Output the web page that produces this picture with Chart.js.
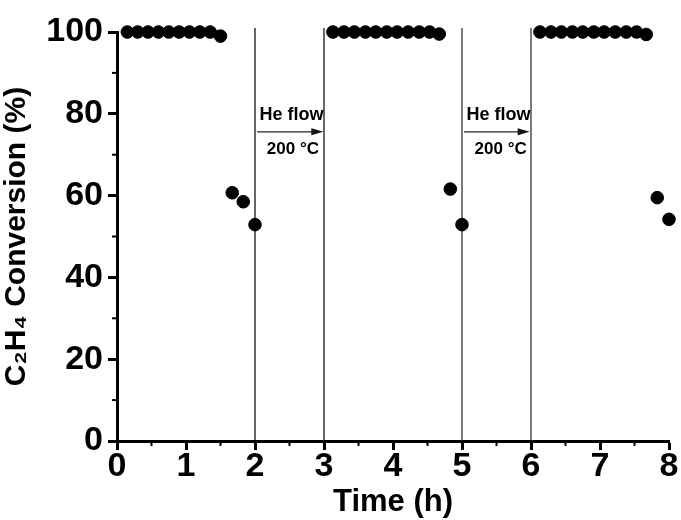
<!DOCTYPE html>
<html>
<head>
<meta charset="utf-8">
<script src="https://cdn.jsdelivr.net/npm/chart.js@4"></script>
<style>
  html, body { margin: 0; padding: 0; background: #fff; }
  #wrap { width: 681px; height: 520px; }
</style>
</head>
<body>
<div id="wrap"><canvas id="c" width="681" height="520"></canvas></div>
<script>
// ---- data ----
const time1 = [0.15, 0.30, 0.45, 0.60, 0.75, 0.90, 1.05, 1.20, 1.35, 1.50, 1.67, 1.83, 2.00];
const conv1 = [100, 100, 100, 100, 100, 100, 100, 100, 100, 99.0, 60.7, 58.5, 52.9];
const time2 = [3.13, 3.29, 3.44, 3.60, 3.75, 3.91, 4.06, 4.22, 4.38, 4.53, 4.67, 4.83, 5.00];
const conv2 = [100, 100, 100, 100, 100, 100, 100, 100, 100, 100, 99.5, 61.6, 52.9];
const time3 = [6.13, 6.29, 6.44, 6.60, 6.75, 6.91, 7.06, 7.22, 7.38, 7.53, 7.67, 7.83, 8.00];
const conv3 = [100, 100, 100, 100, 100, 100, 100, 100, 100, 100, 99.4, 59.5, 54.2];
const switchTimes = [2, 3, 5, 6];
const lineTop = 101;
const xTicks = [0, 1, 2, 3, 4, 5, 6, 7, 8];
const yTicks = [0, 20, 40, 60, 80, 100];
const xMinor = [0.5, 1.5, 2.5, 3.5, 4.5, 5.5, 6.5, 7.5];
const yMinor = [10, 30, 50, 70, 90];
const annotations = [
  { from: 2.03, to: 2.99, xText: 2.53, xText2: 2.55, label: 'He flow', label2: '200 °C' },
  { from: 5.03, to: 5.98, xText: 5.53, xText2: 5.56, label: 'He flow', label2: '200 °C' }
];
const annY = { top: 79.7, arrow: 75.6, bottom: 71.3 };

const pts = [];
[[time1, conv1], [time2, conv2], [time3, conv3]].forEach(([t, c]) => {
  t.forEach((v, i) => pts.push({ x: v, y: c[i] }));
});

const lineSets = switchTimes.map((t, i) => ({
  type: 'line',
  data: [{ x: t, y: 0 }, { x: t, y: lineTop }],
  borderColor: i < 2 ? '#000' : '#222',
  borderWidth: 1.2,
  pointRadius: 0,
  clip: false,
  order: 2
}));

const FONT = "'Liberation Sans', Arial, sans-serif";
const SZ = { tick: 34, ytitle: 30, xtitle: 31, ann1: 18, ann2: 17 };

const extras = {
  id: 'extras',
  afterDraw(chart) {
    const ctx = chart.ctx;
    const xs = chart.scales.x, ys = chart.scales.y;
    const x0 = xs.getPixelForValue(0), y0 = ys.getPixelForValue(0);
    ctx.save();
    ctx.strokeStyle = '#000';
    ctx.lineWidth = 2;
    xMinor.forEach(v => {
      const px = xs.getPixelForValue(v);
      ctx.beginPath(); ctx.moveTo(px, y0); ctx.lineTo(px, y0 + 5); ctx.stroke();
    });
    yMinor.forEach(v => {
      const py = ys.getPixelForValue(v);
      ctx.beginPath(); ctx.moveTo(x0, py); ctx.lineTo(x0 - 5, py); ctx.stroke();
    });
    annotations.forEach(a => {
      const xa = xs.getPixelForValue(a.from), xb = xs.getPixelForValue(a.to);
      const ya = ys.getPixelForValue(annY.arrow);
      ctx.strokeStyle = '#222'; ctx.fillStyle = '#111';
      ctx.lineWidth = 1.3;
      ctx.beginPath(); ctx.moveTo(xa, ya); ctx.lineTo(xb - 10, ya); ctx.stroke();
      ctx.beginPath(); ctx.moveTo(xb, ya); ctx.lineTo(xb - 12, ya - 3.5); ctx.lineTo(xb - 12, ya + 3.5); ctx.closePath(); ctx.fill();
      ctx.textAlign = 'center'; ctx.textBaseline = 'middle';
      ctx.fillStyle = '#000';
      ctx.font = 'bold ' + SZ.ann1 + 'px ' + FONT;
      ctx.fillText(a.label, xs.getPixelForValue(a.xText), ys.getPixelForValue(annY.top));
      ctx.font = 'bold ' + SZ.ann2 + 'px ' + FONT;
      ctx.fillText(a.label2, xs.getPixelForValue(a.xText2), ys.getPixelForValue(annY.bottom));
    });
    ctx.restore();
  }
};

new Chart(document.getElementById('c'), {
  type: 'scatter',
  data: {
    datasets: [{
      data: pts,
      backgroundColor: '#000',
      borderColor: '#000',
      pointRadius: 6.3,
      pointHoverRadius: 6.3,
      showLine: false,
      clip: false,
      order: 1
    }, ...lineSets]
  },
  options: {
    responsive: false,
    animation: false,
    events: [],
    layout: { padding: { top: 32, right: 12, left: 0, bottom: 0 } },
    plugins: { legend: { display: false }, tooltip: { enabled: false } },
    scales: {
      x: {
        type: 'linear', min: 0, max: 8,
        afterBuildTicks: s => { s.ticks = xTicks.map(v => ({ value: v })); },
        afterFit: s => { s.height = 79; },
        border: { display: true, width: 3, color: '#000' },
        grid: { drawOnChartArea: false, drawTicks: true, tickLength: 9, tickWidth: 3, tickColor: '#000' },
        ticks: { color: '#000', padding: -2, font: { family: FONT, size: SZ.tick, weight: 'bold', lineHeight: 1.1 }, maxRotation: 0 },
        title: { display: true, text: 'Time (h)', color: '#000', padding: { top: 0, bottom: 0 },
                 font: { family: FONT, size: SZ.xtitle, weight: 'bold', lineHeight: 1.1 } }
      },
      y: {
        type: 'linear', min: 0, max: 100,
        afterBuildTicks: s => { s.ticks = yTicks.map(v => ({ value: v })); },
        afterFit: s => { s.width = 117; },
        border: { display: true, width: 3, color: '#000' },
        grid: { drawOnChartArea: false, drawTicks: true, tickLength: 9, tickWidth: 3, tickColor: '#000' },
        ticks: { color: '#000', padding: 5, font: { family: FONT, size: SZ.tick, weight: 'bold' } },
        title: { display: true, text: 'C₂H₄ Conversion (%)', color: '#000', padding: { top: 0, bottom: 8 },
                 font: { family: FONT, size: SZ.ytitle, weight: 'bold', lineHeight: 1.1 } }
      }
    }
  },
  plugins: [extras]
});
</script>
</body>
</html>
